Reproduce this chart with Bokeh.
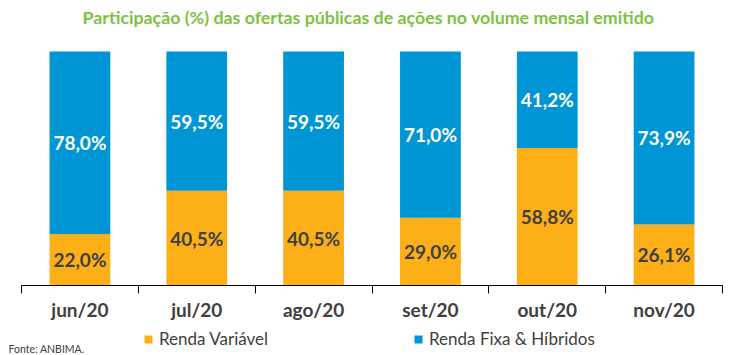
from bokeh.plotting import figure
from bokeh.models import (ColumnDataSource, Range1d, FixedTicker, Label, Legend, LegendItem)
from bokeh.core.properties import value
from bokeh.embed import file_html
from bokeh.resources import INLINE

months = ["jun/20", "jul/20", "ago/20", "set/20", "out/20", "nov/20"]
renda_variavel = [22.0, 40.5, 40.5, 29.0, 58.8, 26.1]
renda_fixa = [78.0, 59.5, 59.5, 71.0, 41.2, 73.9]
title_text = "Participação (%) das ofertas públicas de ações no volume mensal emitido"
source_text = "Fonte: ANBIMA."

ORANGE = "#FCAF17"
BLUE = "#0096D6"
DARK = "#404040"
GREEN = "#7DC242"
FONT = "Lato"

n = len(months)
xs = [i + 0.5 for i in range(n)]
tops = [a + b for a, b in zip(renda_variavel, renda_fixa)]

def fmt(v):
    return f"{v:.1f}".replace(".", ",") + "%"

src = ColumnDataSource(dict(
    x=xs,
    rv=renda_variavel,
    rf=renda_fixa,
    top=tops,
    rv_mid=[v / 2 for v in renda_variavel],
    rf_mid=[a + b / 2 for a, b in zip(renda_variavel, renda_fixa)],
    rv_lbl=[fmt(v) for v in renda_variavel],
    rf_lbl=[fmt(v) for v in renda_fixa],
))

# layout (pixels)
W, H = 750, 355
ax_left, ax_right = 21, 722      # axis line extent
ax_y, bar_top_y = 285, 51        # axis line and 100% level
ppx = (ax_right - ax_left) / n   # px per category
ppy = (ax_y - bar_top_y) / 100.0 # px per percent

p = figure(width=W, height=H, output_backend="svg", toolbar_location=None, title=None,
           x_range=Range1d(-ax_left / ppx, n + (W - ax_right) / ppx),
           y_range=Range1d(-(H - ax_y) / ppy, ax_y / ppy),
           y_axis_location=None, min_border=0,
           min_border_left=0, min_border_right=0, min_border_top=0, min_border_bottom=0)
p.outline_line_color = None
p.xgrid.visible = False
p.ygrid.visible = False
p.background_fill_color = "white"
p.border_fill_color = "white"

r_rv = p.vbar(x="x", bottom=0, top="rv", width=0.52, source=src, fill_color=ORANGE, line_color=None)
r_rf = p.vbar(x="x", bottom="rv", top="top", width=0.52, source=src, fill_color=BLUE, line_color=None)

p.text(x="x", y="rv_mid", text="rv_lbl", source=src, text_align="center", text_baseline="middle",
       text_font=value(FONT), text_font_style="bold", text_font_size="19px", text_color=DARK)
p.text(x="x", y="rf_mid", text="rf_lbl", source=src, text_align="center", text_baseline="middle",
       text_font=value(FONT), text_font_style="bold", text_font_size="19px", text_color="white")

ax = p.xaxis[0]
ax.fixed_location = 0
ax.bounds = (0, n)
ax.ticker = FixedTicker(ticks=xs, minor_ticks=list(range(n + 1)))
ax.major_label_overrides = {x: m for x, m in zip(xs, months)}
ax.major_tick_out = 0
ax.major_tick_in = 0
ax.minor_tick_out = 8
ax.minor_tick_in = 0
ax.minor_tick_line_color = "black"
ax.axis_line_color = "black"
ax.axis_line_width = 1
ax.major_label_standoff = 4
ax.major_label_text_font = FONT
ax.major_label_text_font_style = "bold"
ax.major_label_text_font_size = "19px"
ax.major_label_text_color = DARK

p.add_layout(Label(x=368, y=H - 16, x_units="screen", y_units="screen", text=title_text,
                   text_align="center", text_baseline="middle", text_font=FONT,
                   text_font_style="bold", text_font_size="17.8px", text_color=GREEN))

p.add_layout(Label(x=8, y=H - 348, x_units="screen", y_units="screen", text=source_text,
                   text_align="left", text_baseline="middle", text_font=FONT,
                   text_font_size="10.5px", text_color=DARK))

for r, name, lx in [(r_rv, "Renda Variável", 143), (r_rf, "Renda Fixa & Híbridos", 413)]:
    lg = Legend(items=[LegendItem(label=name, renderers=[r])], location=(lx, H - 349),
                orientation="horizontal", padding=0, margin=0, border_line_color=None,
                background_fill_alpha=0, glyph_width=10, glyph_height=10, label_standoff=6,
                label_text_font=FONT, label_text_font_size="17px", label_text_color=DARK,
                label_height=20)
    p.add_layout(lg, "center")

open("out.html", "w").write(file_html(p, INLINE))
